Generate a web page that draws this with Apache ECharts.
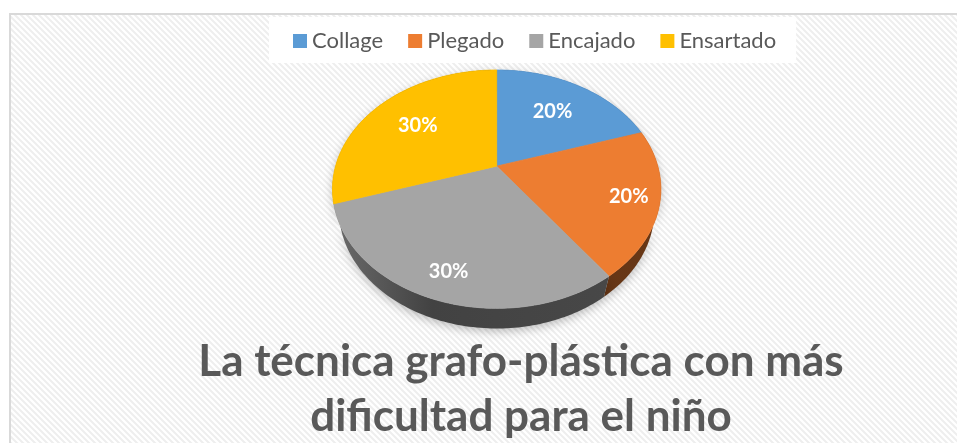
<!DOCTYPE html>
<html>
<head>
<meta charset="utf-8">
<script src="https://cdn.jsdelivr.net/npm/echarts@6/dist/echarts.min.js"></script>
<style>
html,body{margin:0;padding:0;background:#fff;}
#chart{width:957px;height:443px;}
</style>
</head>
<body>
<div id="chart"></div>
<script>
var categories = ['Collage', 'Plegado', 'Encajado', 'Ensartado'];
var values = [20, 20, 30, 30];
var colors = ['#5B9BD5', '#ED7D31', '#A5A5A5', '#FFC000'];
var titleLines = ['La técnica grafo-plástica con más', 'dificultad para el niño'];

var total = values.reduce(function (a, b) { return a + b; }, 0);

// 3d look of the excel pie: tilted disc seen in perspective
var tilt = 45.4 * Math.PI / 180, cosT = Math.cos(tilt), sinT = Math.sin(tilt);
var dist = 3.63, depth = 0.2;

function project(W, H, u, y, v) {
  var f = 1.32 * H;
  var z = dist + v * cosT - y * sinT;
  var yc = y * cosT + v * sinT;
  return [0.519 * W + f * u / z, 0.375 * H - f * yc / z];
}

function shade(hex, k) {
  var r = parseInt(hex.slice(1, 3), 16), g = parseInt(hex.slice(3, 5), 16), b = parseInt(hex.slice(5, 7), 16);
  return 'rgb(' + Math.round(r * k) + ',' + Math.round(g * k) + ',' + Math.round(b * k) + ')';
}

function hatch() {
  var c = document.createElement('canvas');
  c.width = 6; c.height = 6;
  var g = c.getContext('2d');
  g.fillStyle = '#fff';
  g.fillRect(0, 0, 6, 6);
  g.strokeStyle = '#eeeeee';
  g.lineWidth = 2;
  g.beginPath();
  g.moveTo(-1, -1); g.lineTo(7, 7);
  g.moveTo(-1, 5); g.lineTo(1, 7);
  g.moveTo(5, -1); g.lineTo(7, 1);
  g.stroke();
  return c;
}

function renderSlice(params, api) {
  var i = params.dataIndex, W = api.getWidth(), H = api.getHeight();
  var start = 0;
  for (var k = 0; k < i; k++) start += values[k];
  var a0 = start / total * 2 * Math.PI;
  var a1 = (start + api.value(0)) / total * 2 * Math.PI;
  var n = Math.max(2, Math.ceil((a1 - a0) / 0.02));
  var rimTop = [], rimBot = [];
  for (var j = 0; j <= n; j++) {
    var a = a0 + (a1 - a0) * j / n, u = Math.sin(a), v = Math.cos(a);
    rimTop.push(project(W, H, u, 0, v));
    rimBot.push(project(W, H, u, -depth, v));
  }
  var face = [project(W, H, 0, 0, 0)].concat(rimTop);
  var wall = rimTop.concat(rimBot.slice().reverse());
  var col = colors[i];
  var left = project(W, H, -1, 0, 0)[0], right = project(W, H, 1, 0, 0)[0];

  var am = (a0 + a1) / 2, mv = Math.cos(am);
  var r = mv < 0 ? 0.82 : 0.65;
  var lp = project(W, H, r * Math.sin(am), 0, r * mv);

  return {
    type: 'group',
    children: [
      {
        type: 'polygon',
        z2: 1,
        shape: { points: wall },
        style: {
          fill: new echarts.graphic.LinearGradient(left, 0, right, 0, [
            { offset: 0, color: shade(col, 0.64) },
            { offset: 0.3, color: shade(col, 0.4) },
            { offset: 1, color: shade(col, 0.44) }
          ], true),
          stroke: null,
          shadowBlur: 10,
          shadowOffsetY: 3,
          shadowColor: 'rgba(0,0,0,0.25)'
        }
      },
      {
        type: 'polygon',
        z2: 10,
        shape: { points: face },
        style: { fill: col, stroke: col, lineWidth: 0.8 }
      },
      {
        type: 'text',
        z2: 20,
        x: lp[0],
        y: lp[1],
        style: {
          text: Math.round(api.value(0) / total * 100) + '%',
          fill: '#fff',
          font: 'bold 20px Lato',
          align: 'center',
          verticalAlign: 'middle'
        }
      }
    ]
  };
}

var myChart = echarts.init(document.getElementById('chart'));
myChart.setOption({
  animation: false,
  graphic: [
    {
      type: 'rect',
      z: 0,
      silent: true,
      shape: { x: 10, y: 14, width: 980, height: 460 },
      style: { fill: { image: hatch(), repeat: 'repeat' }, stroke: '#d9d9d9', lineWidth: 2 }
    }
  ],
  title: {
    text: titleLines.join('\n'),
    left: 516,
    top: 329,
    textAlign: 'center',
    textStyle: {
      fontFamily: 'Lato',
      fontWeight: 'bold',
      fontSize: 44,
      lineHeight: 55,
      color: '#595959'
    }
  },
  legend: {
    data: categories,
    left: 269,
    top: 17,
    padding: [13, 20, 11, 24],
    backgroundColor: '#fff',
    icon: 'rect',
    itemWidth: 14,
    itemHeight: 14,
    itemGap: 25,
    selectedMode: false,
    textStyle: { fontFamily: 'Lato', fontSize: 22, color: '#595959' }
  },
  series: [
    {
      // only feeds the legend its names and colours
      type: 'pie',
      name: 'leyenda',
      radius: [0, 0],
      center: [-50, -50],
      silent: true,
      label: { show: false },
      data: categories.map(function (c, i) {
        return { name: c, value: values[i], itemStyle: { color: colors[i] } };
      })
    },
    {
      type: 'custom',
      name: 'Técnicas',
      coordinateSystem: 'none',
      renderItem: renderSlice,
      data: values.map(function (v, i) { return { name: categories[i], value: [v] }; })
    }
  ]
});

window.addEventListener('resize', function () {
  myChart.resize();
});
</script>
</body>
</html>
